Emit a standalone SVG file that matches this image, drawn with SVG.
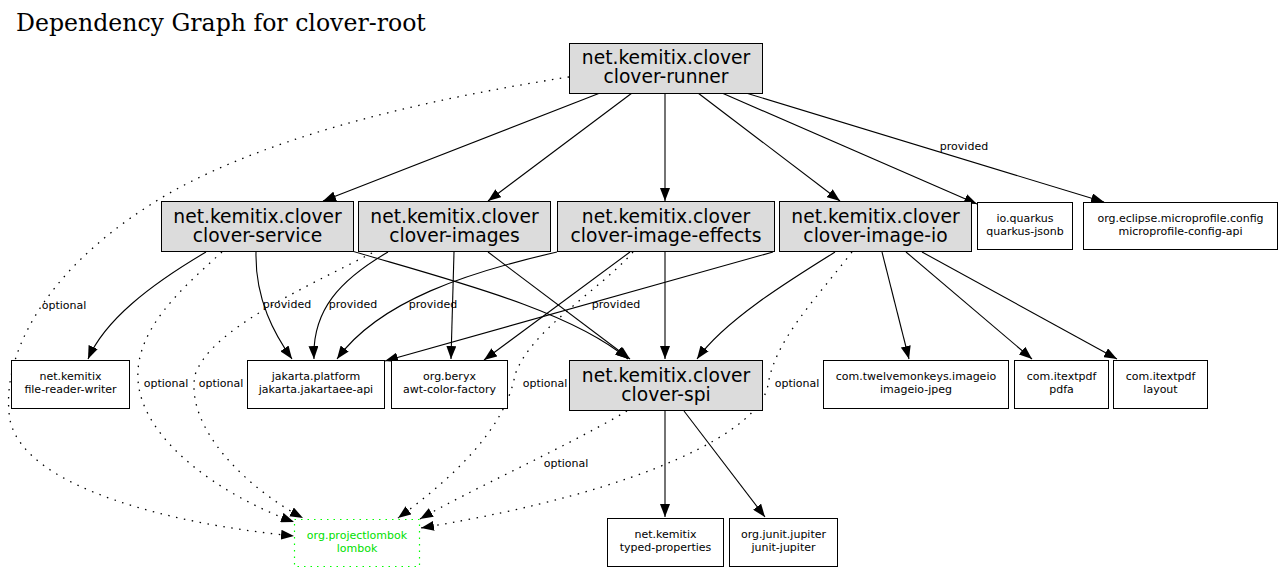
<svg xmlns="http://www.w3.org/2000/svg" width="1284" height="572" viewBox="0 0 1284 572">
<style>
.t{font-family:"DejaVu Serif","Liberation Serif",serif;font-size:23.6px;fill:#000}
.g rect{fill:#dcdcdc;stroke:#000;stroke-width:1}
.w rect{fill:#fff;stroke:#000;stroke-width:1}
.g text{font-family:"DejaVu Sans","Liberation Sans",sans-serif;font-size:18.7px;text-anchor:middle;fill:#000}
.w text,.lb{font-family:"DejaVu Sans","Liberation Sans",sans-serif;font-size:11px;text-anchor:middle;fill:#000}
.lom rect{fill:#fff;stroke:#00ff00;stroke-width:1.2;stroke-dasharray:1.5,5}
.lom text{font-family:"DejaVu Sans","Liberation Sans",sans-serif;font-size:11px;text-anchor:middle;fill:#00e000}
.e{fill:none;stroke:#000;stroke-width:1.1;marker-end:url(#arr)}
.d{fill:none;stroke:#000;stroke-width:1.3;stroke-dasharray:1.5,6.5;marker-end:url(#arr)}
</style>
<defs>
<marker id="arr" markerWidth="14" markerHeight="10" refX="13" refY="5" orient="auto" markerUnits="userSpaceOnUse">
<path d="M0,0 L13,5 L0,10 z" fill="#000"/>
</marker>
</defs>
<rect width="1284" height="572" fill="#fff"/>
<text class="t" x="16" y="31">Dependency Graph for clover-root</text>

<g id="edges">
<path class="e" d="M600,93 L323,201"/>
<path class="e" d="M632,93 L488,201"/>
<path class="e" d="M665,93 L665,201"/>
<path class="e" d="M698,93 L840,201"/>
<path class="e" d="M722,93 L977,204"/>
<path class="e" d="M746,93 L1104,202"/>
<path class="d" d="M569,77 C420,100 250,140 150,205 C40,275 0,360 10,420 C25,490 180,525 294,536"/>
<path class="e" d="M206,252 C150,285 105,320 88,359"/>
<path class="d" d="M222,252 C180,290 135,330 138,380 C142,440 220,495 294,522"/>
<path class="e" d="M256,252 C255,300 275,335 292,359"/>
<path class="e" d="M352,251 C450,280 570,310 628,359"/>
<path class="e" d="M388,252 C340,280 312,310 314,359"/>
<path class="d" d="M372,253 C300,290 210,330 195,375 C185,430 250,490 303,518"/>
<path class="e" d="M454,252 L451,359"/>
<path class="e" d="M488,252 L630,359"/>
<path class="e" d="M557,252 C470,272 380,300 337,359"/>
<path class="e" d="M630,252 L484,360"/>
<path class="e" d="M665,252 L665,359"/>
<path class="d" d="M633,252 C600,290 530,330 515,375 C505,430 450,480 398,518"/>
<path class="e" d="M773,252 L385,361"/>
<path class="e" d="M835,252 C790,280 725,320 697,359"/>
<path class="d" d="M852,252 C815,300 775,340 768,385 C760,430 650,490 421,528"/>
<path class="e" d="M882,252 L909,359"/>
<path class="e" d="M906,252 L1032,359"/>
<path class="e" d="M922,252 L1117,359"/>
<path class="e" d="M665,411 L665,517"/>
<path class="e" d="M684,411 L765,517"/>
<path class="d" d="M627,411 C560,450 470,490 420,519"/>
<text class="lb" x="964" y="150">provided</text>
<text class="lb" x="64" y="309">optional</text>
<text class="lb" x="287" y="308">provided</text>
<text class="lb" x="353" y="308">provided</text>
<text class="lb" x="433" y="308">provided</text>
<text class="lb" x="616" y="308">provided</text>
<text class="lb" x="166" y="387">optional</text>
<text class="lb" x="221" y="387">optional</text>
<text class="lb" x="545" y="387">optional</text>
<text class="lb" x="797" y="387">optional</text>
<text class="lb" x="566" y="467">optional</text>
</g>

<g id="clover-runner" class="g"><rect x="569.5" y="43.5" width="193" height="50"/><text x="666" y="64">net.kemitix.clover</text><text x="666" y="83">clover-runner</text></g>
<g id="clover-service" class="g"><rect x="161.5" y="201.5" width="192" height="50"/><text x="257.5" y="222.5">net.kemitix.clover</text><text x="257.5" y="241.5">clover-service</text></g>
<g id="clover-images" class="g"><rect x="358.5" y="201.5" width="192" height="50"/><text x="454.5" y="222.5">net.kemitix.clover</text><text x="454.5" y="241.5">clover-images</text></g>
<g id="clover-image-effects" class="g"><rect x="557.5" y="201.5" width="217" height="50"/><text x="666" y="222.5">net.kemitix.clover</text><text x="666" y="241.5">clover-image-effects</text></g>
<g id="clover-image-io" class="g"><rect x="779.5" y="201.5" width="192" height="50"/><text x="875.5" y="222.5">net.kemitix.clover</text><text x="875.5" y="241.5">clover-image-io</text></g>
<g id="quarkus-jsonb" class="w"><rect x="977.5" y="202.5" width="95" height="47"/><text x="1025" y="221.5">io.quarkus</text><text x="1025" y="234.5">quarkus-jsonb</text></g>
<g id="microprofile-config-api" class="w"><rect x="1083.5" y="202.5" width="194" height="47"/><text x="1180.5" y="221.5">org.eclipse.microprofile.config</text><text x="1180.5" y="234.5">microprofile-config-api</text></g>
<g id="file-reader-writer" class="w"><rect x="11.5" y="360.5" width="118" height="48"/><text x="70.5" y="380">net.kemitix</text><text x="70.5" y="393">file-reader-writer</text></g>
<g id="jakartaee-api" class="w"><rect x="247.5" y="360.5" width="137" height="48"/><text x="316" y="380">jakarta.platform</text><text x="316" y="393">jakarta.jakartaee-api</text></g>
<g id="awt-color-factory" class="w"><rect x="391.5" y="360.5" width="116" height="48"/><text x="449.5" y="380">org.beryx</text><text x="449.5" y="393">awt-color-factory</text></g>
<g id="clover-spi" class="g"><rect x="569.5" y="360.5" width="193" height="50"/><text x="666" y="381.5">net.kemitix.clover</text><text x="666" y="400.5">clover-spi</text></g>
<g id="imageio-jpeg" class="w"><rect x="823.5" y="360.5" width="185" height="48"/><text x="916" y="380">com.twelvemonkeys.imageio</text><text x="916" y="393">imageio-jpeg</text></g>
<g id="pdfa" class="w"><rect x="1014.5" y="360.5" width="94" height="48"/><text x="1061.5" y="380">com.itextpdf</text><text x="1061.5" y="393">pdfa</text></g>
<g id="layout" class="w"><rect x="1113.5" y="360.5" width="94" height="48"/><text x="1160.5" y="380">com.itextpdf</text><text x="1160.5" y="393">layout</text></g>
<g id="lombok" class="lom"><rect x="294.5" y="519.5" width="125" height="47"/><text x="357" y="538.5">org.projectlombok</text><text x="357" y="551.5">lombok</text></g>
<g id="typed-properties" class="w"><rect x="607.5" y="518.5" width="116" height="48"/><text x="665.5" y="538">net.kemitix</text><text x="665.5" y="551">typed-properties</text></g>
<g id="junit-jupiter" class="w"><rect x="729.5" y="518.5" width="108" height="48"/><text x="783.5" y="538">org.junit.jupiter</text><text x="783.5" y="551">junit-jupiter</text></g>
</svg>
